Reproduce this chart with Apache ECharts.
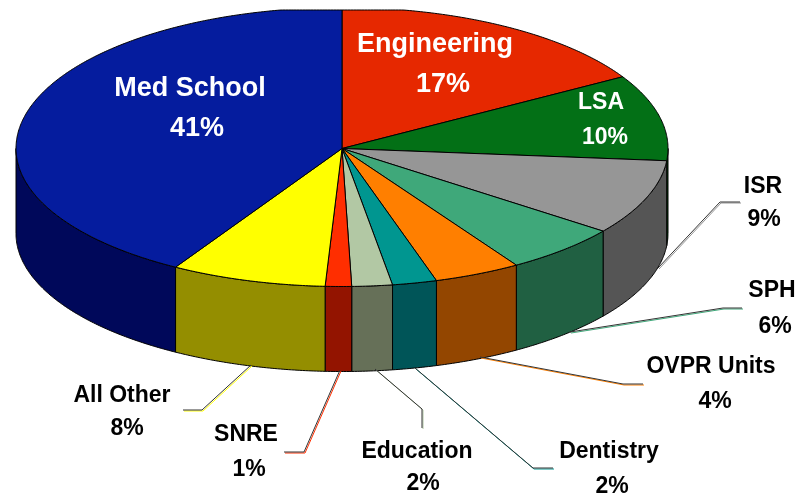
<!DOCTYPE html>
<html>
<head>
<meta charset="utf-8">
<style>
html, body { margin: 0; padding: 0; background: #fff; }
#main { width: 799px; height: 496px; }
</style>
<script src="https://cdn.jsdelivr.net/npm/echarts@6/dist/echarts.min.js"></script>
</head>
<body>
<div id="main"></div>
<script>
var categories = ['Engineering', 'LSA', 'ISR', 'SPH', 'OVPR Units', 'Dentistry', 'Education', 'SNRE', 'All Other', 'Med School'];
var shares = [16.5, 9.9, 8.8, 5.8, 4.3, 2.2, 2.0, 1.3, 7.7, 41.45];

var topColors = ['#E62800', '#037016', '#969696', '#3FA87A', '#FF7F00', '#009690', '#B2C8A4', '#FF2E00', '#FFFF00', '#051C9E'];
var wallColors = ['#931A00', '#024A0E', '#555555', '#206042', '#934600', '#005558', '#667058', '#931400', '#948E00', '#00085A'];

// pie shape on the page
var cx = 342, cy = 148.5, rx = 326, ryBack = 141, ryFront = 138, depth = 85, clipTop = 10;

// label anchors: [centre x, name y, percent x, percent y]
var labelPos = [
    [435, 45, 443, 85], [601, 103, 605, 138], [763, 187, 764, 220], [772, 291, 775, 327],
    [711, 367, 715, 402], [609, 452, 612, 487], [417, 452, 423, 484], [246, 435, 249, 470],
    [122, 396, 127, 429], [190, 89, 197, 129]
];
var leadLines = [
    null, null,
    [[740, 202], [720, 202], [658, 268]],
    [[742, 308], [723, 308], [570, 332]],
    [[643, 384], [623, 384], [480, 357]],
    [[553, 468], [533, 468], [415, 368]],
    [[422, 428], [422, 409], [375, 369]],
    [[284, 452], [304, 452], [340, 370]],
    [[183, 410], [202, 410], [251, 365]],
    null
];

var total = shares.reduce(function (a, b) { return a + b; }, 0);
var running = 0;
var rows = shares.map(function (v) {
    var start = running / total * 360;
    running += v;
    return [v, start, running / total * 360];
});

function rimPoint(deg, drop) {
    var t = deg * Math.PI / 180;
    var c = Math.cos(t);
    var y = cy - c * (c > 0 ? ryBack : ryFront);
    return [cx + rx * Math.sin(t), Math.max(y, clipTop) + (drop || 0)];
}

function arc(from, to, drop) {
    var pts = [];
    var n = Math.max(2, Math.ceil((to - from) * 2));
    for (var i = 0; i <= n; i++) {
        pts.push(rimPoint(from + (to - from) * i / n, drop));
    }
    return pts;
}

function renderWall(params, api) {
    var from = Math.max(api.value(1), 90);
    var to = Math.min(api.value(2), 270);
    if (to <= from) return { type: 'group', children: [] };
    var pts = arc(from, to, 0).concat(arc(from, to, depth).reverse());
    return {
        type: 'polygon',
        shape: { points: pts },
        style: { fill: wallColors[params.dataIndex], stroke: '#000', lineWidth: 1 }
    };
}

function renderTop(params, api) {
    var pts = [[cx, cy]].concat(arc(api.value(1), api.value(2), 0));
    return {
        type: 'polygon',
        shape: { points: pts },
        style: { fill: topColors[params.dataIndex], stroke: '#000', lineWidth: 1 }
    };
}

function renderLabel(params, api) {
    var i = params.dataIndex;
    var inside = i < 2 || i === 9;
    var size = (i === 0 || i === 9) ? 27 : 23;
    var color = inside ? '#fff' : '#000';
    var font = 'bold ' + size + 'px "Liberation Sans", Arial, sans-serif';
    var children = [];
    var line = leadLines[i];
    if (line) {
        children.push({
            type: 'polyline',
            shape: { points: line.map(function (p) { return [p[0] + 1, p[1] + 1]; }) },
            style: { fill: null, stroke: topColors[i], lineWidth: 1 }
        });
        children.push({
            type: 'polyline',
            shape: { points: line },
            style: { fill: null, stroke: '#333', lineWidth: 1 }
        });
    }
    children.push({
        type: 'text',
        style: { x: labelPos[i][0], y: labelPos[i][1], text: categories[i], font: font, fill: color, align: 'center', verticalAlign: 'middle' }
    });
    children.push({
        type: 'text',
        style: { x: labelPos[i][2], y: labelPos[i][3], text: Math.round(api.value(0) / total * 100) + '%', font: font, fill: color, align: 'center', verticalAlign: 'middle' }
    });
    return { type: 'group', children: children };
}

var myChart = echarts.init(document.getElementById('main'));

var option = {
    backgroundColor: '#fff',
    animation: false,
    series: [
        { type: 'custom', coordinateSystem: 'none', z: 1, silent: true, renderItem: renderWall, data: rows },
        { type: 'custom', coordinateSystem: 'none', z: 2, silent: true, renderItem: renderTop, data: rows },
        { type: 'custom', coordinateSystem: 'none', z: 3, silent: true, renderItem: renderLabel, data: rows }
    ]
};

myChart.setOption(option);
</script>
</body>
</html>
